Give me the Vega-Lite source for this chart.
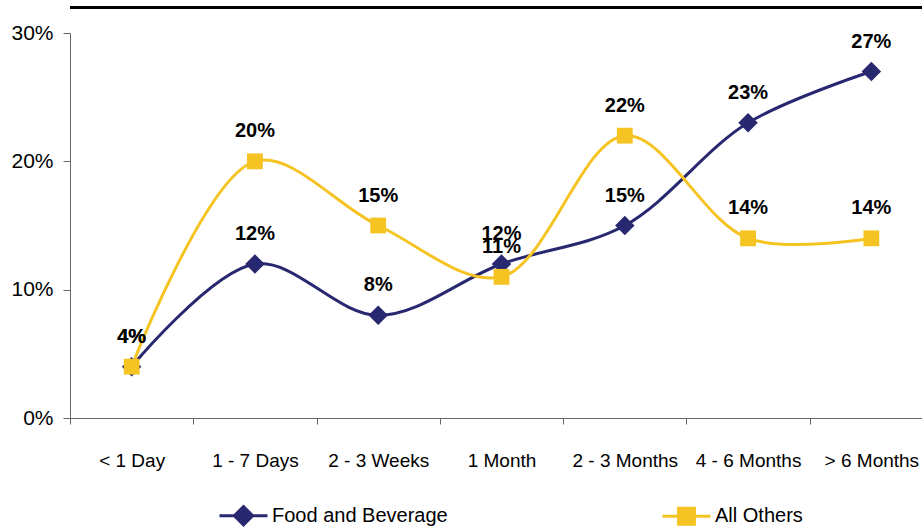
{
  "$schema": "https://vega.github.io/schema/vega-lite/v6.json",
  "width": 863,
  "height": 385,
  "autosize": "none",
  "padding": {"left": 70, "top": 33, "right": 0, "bottom": 109},
  "config": {"view": {"stroke": null}, "font": "Liberation Sans"},
  "data": {
    "values": [
      {"period": "< 1 Day", "series": "Food and Beverage", "value": 0.04},
      {"period": "1 - 7 Days", "series": "Food and Beverage", "value": 0.12},
      {"period": "2 - 3 Weeks", "series": "Food and Beverage", "value": 0.08},
      {"period": "1 Month", "series": "Food and Beverage", "value": 0.12},
      {"period": "2 - 3 Months", "series": "Food and Beverage", "value": 0.15},
      {"period": "4 - 6 Months", "series": "Food and Beverage", "value": 0.23},
      {"period": "> 6 Months", "series": "Food and Beverage", "value": 0.27},
      {"period": "< 1 Day", "series": "All Others", "value": 0.04},
      {"period": "1 - 7 Days", "series": "All Others", "value": 0.20},
      {"period": "2 - 3 Weeks", "series": "All Others", "value": 0.15},
      {"period": "1 Month", "series": "All Others", "value": 0.11},
      {"period": "2 - 3 Months", "series": "All Others", "value": 0.22},
      {"period": "4 - 6 Months", "series": "All Others", "value": 0.14},
      {"period": "> 6 Months", "series": "All Others", "value": 0.14}
    ]
  },
  "layer": [
    {
      "mark": {"type": "rule", "stroke": "#000000", "strokeWidth": 2.5},
      "encoding": {
        "y": {"datum": 0.32, "type": "quantitative", "scale": {"domain": [0, 0.3]}}
      }
    },
    {
      "mark": {"type": "line", "interpolate": "catmull-rom", "strokeWidth": 3},
      "encoding": {
        "x": {
          "field": "period", "type": "nominal",
          "sort": ["< 1 Day", "1 - 7 Days", "2 - 3 Weeks", "1 Month", "2 - 3 Months", "4 - 6 Months", "> 6 Months"],
          "scale": {"type": "band", "paddingInner": 0, "paddingOuter": 0},
          "axis": {"title": null, "labelAngle": 0, "tickBand": "extent", "tickSize": 6, "labelPadding": 27, "labelFontSize": 19, "labelColor": "#000000", "domainColor": "#666666", "tickColor": "#666666", "grid": false}
        },
        "y": {
          "field": "value", "type": "quantitative",
          "scale": {"domain": [0, 0.3]},
          "axis": {"title": null, "format": ".0%", "values": [0, 0.1, 0.2, 0.3], "grid": false, "tickSize": 7, "labelPadding": 10, "labelFontSize": 21, "labelColor": "#000000", "domainColor": "#666666", "tickColor": "#666666"}
        },
        "color": {
          "field": "series", "type": "nominal",
          "scale": {"domain": ["Food and Beverage", "All Others"], "range": ["#27286f", "#f5c423"]},
          "legend": {
            "orient": "none", "legendX": 148, "legendY": 457, "direction": "horizontal", "title": null,
            "labelFontSize": 20, "labelColor": "#000000", "labelOffset": 3, "columnPadding": 208, "labelLimit": 400,
            "symbolSize": 2304, "symbolStrokeWidth": 3,
            "encode": {
              "symbols": {
                "update": {
                  "shape": {"signal": "datum.value === 'All Others' ? 'M-1,0H1M-0.33,-0.33H0.33V0.33H-0.33Z' : 'M-1,0H1M0,-0.38L0.38,0L0,0.38L-0.38,0Z'"},
                  "fill": {"signal": "scale('color', datum.value)"},
                  "stroke": {"signal": "scale('color', datum.value)"},
                  "opacity": {"value": 1},
                  "fillOpacity": {"value": 1}
                }
              }
            }
          }
        }
      }
    },
    {
      "transform": [{"filter": "datum.series === 'Food and Beverage'"}],
      "mark": {"type": "point", "filled": true, "size": 380, "opacity": 1, "shape": "diamond", "color": "#27286f"},
      "encoding": {
        "x": {"field": "period", "type": "nominal", "sort": ["< 1 Day", "1 - 7 Days", "2 - 3 Weeks", "1 Month", "2 - 3 Months", "4 - 6 Months", "> 6 Months"]},
        "y": {"field": "value", "type": "quantitative"}
      }
    },
    {
      "transform": [{"filter": "datum.series === 'All Others'"}],
      "mark": {"type": "point", "filled": true, "size": 250, "opacity": 1, "shape": "square", "color": "#f5c423"},
      "encoding": {
        "x": {"field": "period", "type": "nominal", "sort": ["< 1 Day", "1 - 7 Days", "2 - 3 Weeks", "1 Month", "2 - 3 Months", "4 - 6 Months", "> 6 Months"]},
        "y": {"field": "value", "type": "quantitative"}
      }
    },
    {
      "mark": {"type": "text", "fontWeight": "bold", "fontSize": 20, "dy": -30, "color": "#000000"},
      "encoding": {
        "x": {"field": "period", "type": "nominal", "sort": ["< 1 Day", "1 - 7 Days", "2 - 3 Weeks", "1 Month", "2 - 3 Months", "4 - 6 Months", "> 6 Months"]},
        "y": {"field": "value", "type": "quantitative"},
        "text": {"field": "value", "type": "quantitative", "format": ".0%"}
      }
    }
  ]
}
